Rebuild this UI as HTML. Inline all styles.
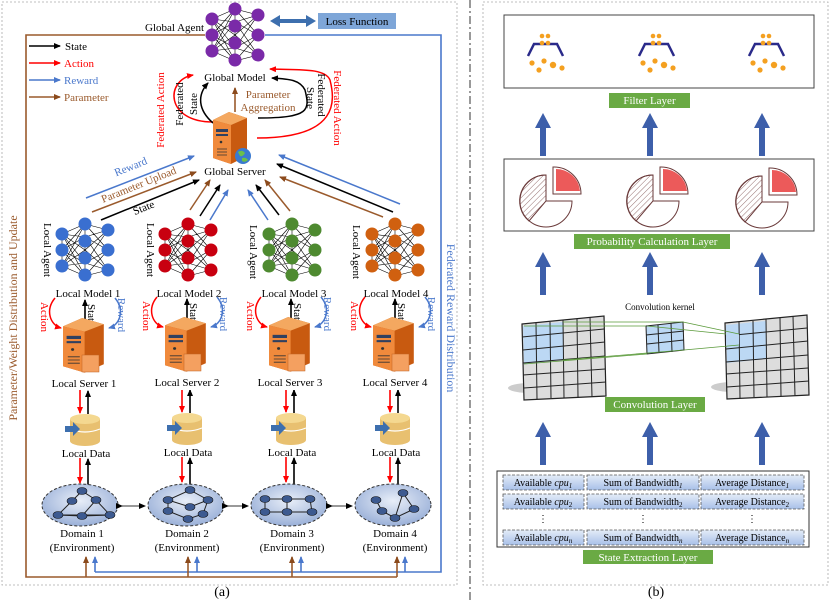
<!DOCTYPE html>
<html><head><meta charset="utf-8"><style>
body{margin:0;background:#fff;}
svg{display:block;font-family:"Liberation Serif",serif;}
</style></head><body>
<svg width="831" height="600" viewBox="0 0 831 600" xmlns="http://www.w3.org/2000/svg">
<defs>
<marker id="ak" markerWidth="8" markerHeight="8" refX="6" refY="3" orient="auto" markerUnits="userSpaceOnUse"><path d="M0,0 L7,3 L0,6z" fill="#000"/></marker>
<marker id="ar" markerWidth="8" markerHeight="8" refX="6" refY="3" orient="auto" markerUnits="userSpaceOnUse"><path d="M0,0 L7,3 L0,6z" fill="#f00"/></marker>
<marker id="ab" markerWidth="8" markerHeight="8" refX="6" refY="3" orient="auto" markerUnits="userSpaceOnUse"><path d="M0,0 L7,3 L0,6z" fill="#4a78cc"/></marker>
<marker id="an" markerWidth="8" markerHeight="8" refX="6" refY="3" orient="auto" markerUnits="userSpaceOnUse"><path d="M0,0 L7,3 L0,6z" fill="#8b4a1c"/></marker>
<g id="netl" stroke="#000" stroke-width="0.6">
<path d="M-23,-16L0,-26M-23,-16L0,-13M-23,-16L0,0M-23,-16L0,13M-23,-16L0,26M-23,0L0,-26M-23,0L0,-13M-23,0L0,13M-23,0L0,26M-23,16L0,-26M-23,16L0,-13M-23,16L0,0M-23,16L0,13M-23,16L0,26M0,-26L23,-20M0,-26L23,0M0,-13L23,-20M0,-13L23,0M0,-13L23,20M0,0L23,-20M0,0L23,20M0,13L23,-20M0,13L23,0M0,13L23,20M0,26L23,0M0,26L23,20M-23,-16L-23,16M0,-26L0,26" fill="none"/>
</g>
<g id="srv">
<path d="M0,8 L16,0 L34,6 L34,44 L18,52 L0,46z" fill="#c85a10"/>
<path d="M0,8 L16,0 L34,6 L18,13z" fill="#f4a860"/>
<path d="M0,8 L18,13 L18,52 L0,46z" fill="#f08a3c"/>
<rect x="3" y="17" width="12" height="3" fill="#304060"/>
<rect x="3" y="22" width="12" height="2" fill="#304060"/>
<circle cx="8" cy="30" r="1.3" fill="#333"/>
<path d="M4,37h10M4,40h10M4,43h10" stroke="#333" stroke-width="0.8"/>
</g>
<g id="db">
<rect x="0" y="4" width="30" height="22" fill="#e8c070"/>
<ellipse cx="15" cy="26" rx="15" ry="5" fill="#e8c070"/>
<ellipse cx="15" cy="4" rx="15" ry="5" fill="#f4d890"/>
<path d="M0,14 Q15,20 30,14" stroke="#fff" fill="none" stroke-width="1.2"/>
<path d="M-5,11h8v-4l7,7-7,7v-4h-8z" fill="#3d6fae"/>
</g>
</defs>

<rect x="2" y="2" width="455" height="583" fill="none" stroke="#aaa" stroke-dasharray="2,2" stroke-width="0.8"/>
<line x1="470" y1="0" x2="470" y2="600" stroke="#333" stroke-dasharray="8,3,2,3" stroke-width="1"/>
<rect x="483" y="2" width="345" height="583" fill="none" stroke="#aaa" stroke-dasharray="2,2" stroke-width="0.8"/>
<text x="222" y="596" font-size="14" text-anchor="middle">(a)</text>
<text x="656" y="596" font-size="14" text-anchor="middle">(b)</text>

<path d="M205,35 H26 V577 H397" stroke="#9a5a2c" stroke-width="1.6" fill="none"/>
<path d="M265,35 H441 V572 H95" stroke="#4a78cc" stroke-width="1.6" fill="none"/>
<g stroke="#9a5a2c" stroke-width="1.6" marker-end="url(#an)"><line x1="86" y1="577" x2="86" y2="557"/><line x1="188" y1="577" x2="188" y2="557"/><line x1="292" y1="577" x2="292" y2="557"/><line x1="397" y1="577" x2="397" y2="557"/></g>
<g stroke="#4a78cc" stroke-width="1.6" marker-end="url(#ab)"><line x1="95" y1="572" x2="95" y2="557"/><line x1="197" y1="572" x2="197" y2="557"/><line x1="301" y1="572" x2="301" y2="557"/><line x1="405" y1="572" x2="405" y2="557"/></g>
<text transform="translate(17,318) rotate(-90)" font-size="12" fill="#9a5a2c" text-anchor="middle">Parameter/Weight Distribution and Update</text>
<text transform="translate(447,318) rotate(90)" font-size="12" fill="#4a78cc" text-anchor="middle">Federated Reward Distribution</text>

<g transform="translate(235,35)"><use href="#netl"/>
<g fill="#7a2aa8"><circle cx="-23" cy="-16" r="6.5"/><circle cx="-23" cy="0" r="6.5"/><circle cx="-23" cy="16" r="6.5"/><circle cx="0" cy="-26" r="6.5"/><circle cx="0" cy="-9" r="6.5"/><circle cx="0" cy="8" r="6.5"/><circle cx="0" cy="25" r="6.5"/><circle cx="23" cy="-20" r="6.5"/><circle cx="23" cy="0" r="6.5"/><circle cx="23" cy="20" r="6.5"/></g></g>
<text x="204" y="31" font-size="11" text-anchor="end">Global Agent</text>
<path d="M270,21 l10,-6 v4 h26 v-4 l10,6 -10,6 v-4 h-26 v4z" fill="#3d6fae"/>
<rect x="318" y="13" width="78" height="16" fill="#7ea6d8"/>
<text x="357" y="25" font-size="11" text-anchor="middle">Loss Function</text>

<g stroke-width="1.5"><line x1="29" y1="46" x2="60" y2="46" stroke="#000" marker-end="url(#ak)"/><line x1="29" y1="63" x2="60" y2="63" stroke="#f00" marker-end="url(#ar)"/><line x1="29" y1="80" x2="60" y2="80" stroke="#4a78cc" marker-end="url(#ab)"/><line x1="29" y1="97" x2="60" y2="97" stroke="#9a5a2c" marker-end="url(#an)"/></g>
<g font-size="11"><text x="65" y="50">State</text><text x="64" y="67" fill="#f00">Action</text><text x="64" y="84" fill="#4a78cc">Reward</text><text x="64" y="101" fill="#9a5a2c">Parameter</text></g>

<text x="235" y="81" font-size="11" text-anchor="middle">Global Model</text>
<path d="M213,122 C165,122 165,80 193,75" stroke="#f00" stroke-width="1.5" fill="none" marker-end="url(#ar)"/>
<path d="M257,138 C340,138 335,100 330,80 C325,68 300,70 270,69" stroke="#f00" stroke-width="1.5" fill="none" marker-end="url(#ar)"/>
<path d="M213,123 C198,110 197,95 208,83" stroke="#000" stroke-width="1.5" fill="none" marker-end="url(#ak)"/>
<path d="M258,118 C310,118 310,110 305,90 C300,80 290,79 272,78" stroke="#000" stroke-width="1.5" fill="none" marker-end="url(#ak)"/>
<line x1="235" y1="112" x2="235" y2="88" stroke="#9a5a2c" stroke-width="1.6" marker-end="url(#an)"/>
<text x="268" y="98" font-size="11" fill="#9a5a2c" text-anchor="middle">Parameter</text>
<text x="268" y="111" font-size="11" fill="#9a5a2c" text-anchor="middle">Aggregation</text>
<text transform="translate(164,110) rotate(-90)" font-size="11" fill="#f00" text-anchor="middle">Federated Action</text>
<text transform="translate(183,104) rotate(-90)" font-size="11" text-anchor="middle">Federated</text>
<text transform="translate(197,104) rotate(-90)" font-size="11" text-anchor="middle">State</text>
<text transform="translate(307,98) rotate(90)" font-size="11" text-anchor="middle">State</text>
<text transform="translate(318,95) rotate(90)" font-size="11" text-anchor="middle">Federated</text>
<text transform="translate(334,108) rotate(90)" font-size="11" fill="#f00" text-anchor="middle">Federated Action</text>
<use href="#srv" transform="translate(213,112)"/>
<circle cx="243" cy="156" r="8" fill="#3a7ad0"/><path d="M238,152 q4,-3 7,1 q-2,4 -5,3z M242,158 q4,-1 6,2 q-3,3 -6,1z" fill="#6ac04a"/>
<text x="235" y="175" font-size="11" text-anchor="middle">Global Server</text>

<g stroke-width="1.5">
<line x1="86" y1="198" x2="194" y2="156" stroke="#4a78cc" marker-end="url(#ab)"/>
<line x1="92" y1="212" x2="196" y2="172" stroke="#9a5a2c" marker-end="url(#an)"/>
<line x1="101" y1="220" x2="199" y2="180" stroke="#000" marker-end="url(#ak)"/>
<line x1="190" y1="210" x2="210" y2="180" stroke="#9a5a2c" marker-end="url(#an)"/>
<line x1="200" y1="216" x2="220" y2="185" stroke="#000" marker-end="url(#ak)"/>
<line x1="210" y1="220" x2="228" y2="190" stroke="#4a78cc" marker-end="url(#ab)"/>
<line x1="268" y1="220" x2="248" y2="190" stroke="#4a78cc" marker-end="url(#ab)"/>
<line x1="279" y1="215" x2="256" y2="185" stroke="#000" marker-end="url(#ak)"/>
<line x1="290" y1="211" x2="265" y2="180" stroke="#9a5a2c" marker-end="url(#an)"/>
<line x1="383" y1="217" x2="280" y2="177" stroke="#9a5a2c" marker-end="url(#an)"/>
<line x1="393" y1="212" x2="277" y2="164" stroke="#000" marker-end="url(#ak)"/>
<line x1="400" y1="204" x2="279" y2="155" stroke="#4a78cc" marker-end="url(#ab)"/>
</g>
<text transform="translate(132,170) rotate(-22)" font-size="11" fill="#4a78cc" text-anchor="middle">Reward</text>
<text transform="translate(140,188) rotate(-22)" font-size="11" fill="#9a5a2c" text-anchor="middle">Parameter Upload</text>
<text transform="translate(145,211) rotate(-22)" font-size="11" text-anchor="middle">State</text>

<g font-size="11">
<g transform="translate(85,250)"><use href="#netl"/><g fill="#3a6fd0"><circle cx="-23" cy="-16" r="6.5"/><circle cx="-23" cy="0" r="6.5"/><circle cx="-23" cy="16" r="6.5"/><circle cx="0" cy="-26" r="6.5"/><circle cx="0" cy="-9" r="6.5"/><circle cx="0" cy="8" r="6.5"/><circle cx="0" cy="25" r="6.5"/><circle cx="23" cy="-20" r="6.5"/><circle cx="23" cy="0" r="6.5"/><circle cx="23" cy="20" r="6.5"/></g></g>
<g transform="translate(188,250)"><use href="#netl"/><g fill="#c80010"><circle cx="-23" cy="-16" r="6.5"/><circle cx="-23" cy="0" r="6.5"/><circle cx="-23" cy="16" r="6.5"/><circle cx="0" cy="-26" r="6.5"/><circle cx="0" cy="-9" r="6.5"/><circle cx="0" cy="8" r="6.5"/><circle cx="0" cy="25" r="6.5"/><circle cx="23" cy="-20" r="6.5"/><circle cx="23" cy="0" r="6.5"/><circle cx="23" cy="20" r="6.5"/></g></g>
<g transform="translate(292,250)"><use href="#netl"/><g fill="#4e8a30"><circle cx="-23" cy="-16" r="6.5"/><circle cx="-23" cy="0" r="6.5"/><circle cx="-23" cy="16" r="6.5"/><circle cx="0" cy="-26" r="6.5"/><circle cx="0" cy="-9" r="6.5"/><circle cx="0" cy="8" r="6.5"/><circle cx="0" cy="25" r="6.5"/><circle cx="23" cy="-20" r="6.5"/><circle cx="23" cy="0" r="6.5"/><circle cx="23" cy="20" r="6.5"/></g></g>
<g transform="translate(395,250)"><use href="#netl"/><g fill="#d06010"><circle cx="-23" cy="-16" r="6.5"/><circle cx="-23" cy="0" r="6.5"/><circle cx="-23" cy="16" r="6.5"/><circle cx="0" cy="-26" r="6.5"/><circle cx="0" cy="-9" r="6.5"/><circle cx="0" cy="8" r="6.5"/><circle cx="0" cy="25" r="6.5"/><circle cx="23" cy="-20" r="6.5"/><circle cx="23" cy="0" r="6.5"/><circle cx="23" cy="20" r="6.5"/></g></g>
<text transform="translate(44,250) rotate(90)" text-anchor="middle">Local Agent</text>
<text transform="translate(147,250) rotate(90)" text-anchor="middle">Local Agent</text>
<text transform="translate(250,252) rotate(90)" text-anchor="middle">Local Agent</text>
<text transform="translate(353,252) rotate(90)" text-anchor="middle">Local Agent</text>
<text x="88" y="297" text-anchor="middle">Local Model 1</text>
<text x="189" y="297" text-anchor="middle">Local Model 2</text>
<text x="294" y="297" text-anchor="middle">Local Model 3</text>
<text x="396" y="297" text-anchor="middle">Local Model 4</text>
</g>

<g id="c" font-size="11">
<path d="M55,298 C45,310 50,325 61,328" stroke="#f00" stroke-width="1.5" fill="none" marker-end="url(#ar)"/>
<path d="M115,298 C125,310 120,325 109,328" stroke="#4a78cc" stroke-width="1.5" fill="none" marker-end="url(#ab)"/>
<line x1="85" y1="322" x2="85" y2="300" stroke="#000" stroke-width="1.6" marker-end="url(#ak)"/>
<text transform="translate(41,317) rotate(90)" fill="#f00" text-anchor="middle">Action</text>
<text transform="translate(88,315) rotate(90)" text-anchor="middle">State</text>
<text transform="translate(118,315) rotate(90)" fill="#4a78cc" text-anchor="middle">Reward</text>
<use href="#srv" transform="translate(63,318) scale(1.2,1.05)"/>
<rect x="82" y="355" width="17" height="17" fill="#f4a060" stroke="#c06020" stroke-width="0.5"/>
<text x="84" y="387" text-anchor="middle">Local Server 1</text>
<line x1="80" y1="390" x2="80" y2="413" stroke="#f00" stroke-width="1.6" marker-end="url(#ar)"/>
<line x1="88" y1="414" x2="88" y2="391" stroke="#000" stroke-width="1.6" marker-end="url(#ak)"/>
<use href="#db" transform="translate(70,415)"/>
<text x="86" y="457" text-anchor="middle">Local Data</text>
<line x1="80" y1="458" x2="80" y2="483" stroke="#f00" stroke-width="1.6" marker-end="url(#ar)"/>
<line x1="88" y1="485" x2="88" y2="459" stroke="#000" stroke-width="1.6" marker-end="url(#ak)"/>
</g>
<use href="#c" transform="translate(102,-1)"/>
<use href="#c" transform="translate(206,-1)"/>
<use href="#c" transform="translate(310,-1)"/>
<rect x="150" y="376" width="80" height="14" fill="#fff"/><text x="187" y="386" font-size="11" text-anchor="middle">Local Server 2</text>
<rect x="252" y="376" width="80" height="14" fill="#fff"/><text x="290" y="386" font-size="11" text-anchor="middle">Local Server 3</text>
<rect x="356" y="376" width="80" height="14" fill="#fff"/><text x="395" y="386" font-size="11" text-anchor="middle">Local Server 4</text>

<defs><radialGradient id="dg" cx="0.5" cy="0.4" r="0.6"><stop offset="0" stop-color="#e8eef8"/><stop offset="1" stop-color="#9ab0d8"/></radialGradient></defs>
<g stroke="#333" stroke-dasharray="3,2" fill="url(#dg)">
<ellipse cx="80" cy="505" rx="38" ry="21"/><ellipse cx="186" cy="505" rx="38" ry="21"/><ellipse cx="289" cy="505" rx="38" ry="21"/><ellipse cx="393" cy="505" rx="38" ry="21"/>
</g>
<g stroke="#333" stroke-width="1" marker-start="url(#ak)" marker-end="url(#ak)">
<line x1="122" y1="506" x2="145" y2="506"/><line x1="228" y1="506" x2="248" y2="506"/><line x1="332" y1="506" x2="352" y2="506"/></g>
<g stroke="#222" stroke-width="1" fill="none">
<path d="M58,515 L72,501 L82,491 L96,500 L110,515 L82,516z M58,515 H110 M82,516 L96,500"/>
<path d="M168,500 L190,490 L208,500 L203,514 L188,519 L168,511z M168,500 L190,507 L208,500"/>
<path d="M265,499 H310 L312,512 H265z M287,499 V512"/>
<path d="M376,500 L382,511 L395,518 L414,509 L403,493 L395,518"/>
</g>
<g fill="#3d5a90" stroke="#111" stroke-width="0.6">
<ellipse cx="58" cy="515" rx="5" ry="3.5"/><ellipse cx="72" cy="501" rx="5" ry="3.5"/><ellipse cx="82" cy="491" rx="5" ry="3.5"/><ellipse cx="96" cy="500" rx="5" ry="3.5"/><ellipse cx="110" cy="515" rx="5" ry="3.5"/><ellipse cx="82" cy="516" rx="5" ry="3.5"/>
<ellipse cx="168" cy="500" rx="5" ry="3.5"/><ellipse cx="190" cy="490" rx="5" ry="3.5"/><ellipse cx="208" cy="500" rx="5" ry="3.5"/><ellipse cx="203" cy="514" rx="5" ry="3.5"/><ellipse cx="188" cy="519" rx="5" ry="3.5"/><ellipse cx="168" cy="511" rx="5" ry="3.5"/><ellipse cx="190" cy="507" rx="5" ry="3.5"/>
<ellipse cx="265" cy="499" rx="5" ry="3.5"/><ellipse cx="287" cy="499" rx="5" ry="3.5"/><ellipse cx="310" cy="499" rx="5" ry="3.5"/><ellipse cx="265" cy="512" rx="5" ry="3.5"/><ellipse cx="287" cy="512" rx="5" ry="3.5"/><ellipse cx="312" cy="512" rx="5" ry="3.5"/>
<ellipse cx="376" cy="500" rx="5" ry="3.5"/><ellipse cx="382" cy="511" rx="5" ry="3.5"/><ellipse cx="395" cy="518" rx="5" ry="3.5"/><ellipse cx="414" cy="509" rx="5" ry="3.5"/><ellipse cx="403" cy="493" rx="5" ry="3.5"/>
</g>
<g font-size="11" text-anchor="middle">
<text x="82" y="537">Domain 1</text><text x="82" y="551">(Environment)</text>
<text x="187" y="537">Domain 2</text><text x="187" y="551">(Environment)</text>
<text x="292" y="537">Domain 3</text><text x="292" y="551">(Environment)</text>
<text x="395" y="537">Domain 4</text><text x="395" y="551">(Environment)</text>
</g>

<rect x="504" y="15" width="310" height="73" fill="#fff" stroke="#444" stroke-width="1"/>
<g id="flt">
<path d="M528,56 L534,44 H557 L563,56" stroke="#2a2a8a" stroke-width="2.5" fill="none"/>
<g fill="#f4a020"><circle cx="542" cy="36" r="2.3"/><circle cx="548" cy="36" r="2.3"/><circle cx="542" cy="43" r="2.3"/><circle cx="548" cy="43" r="2.3"/><circle cx="532" cy="63" r="2.6"/><circle cx="544" cy="61" r="2.6"/><circle cx="553" cy="65" r="3.2"/><circle cx="562" cy="68" r="2.6"/><circle cx="539" cy="70" r="2.6"/></g>
</g>
<use href="#flt" transform="translate(111,0)"/>
<use href="#flt" transform="translate(221,0)"/>
<rect x="609" y="93" width="81" height="15" fill="#6aaa44"/>
<text x="649.5" y="104" font-size="11" fill="#fff" text-anchor="middle">Filter Layer</text>

<g id="arr" fill="#3d5faa"><rect x="540" y="127" width="6" height="29"/><path d="M535,128 L543,113 L551,128z"/></g>
<use href="#arr" transform="translate(107,0)"/><use href="#arr" transform="translate(219,0)"/>
<use href="#arr" transform="translate(0,139)"/><use href="#arr" transform="translate(107,139)"/><use href="#arr" transform="translate(219,139)"/>
<use href="#arr" transform="translate(0,309)"/><use href="#arr" transform="translate(107,309)"/><use href="#arr" transform="translate(219,309)"/>

<rect x="504" y="159" width="310" height="72" fill="#fff" stroke="#444" stroke-width="1"/>
<defs><pattern id="hat" width="4" height="4" patternUnits="userSpaceOnUse" patternTransform="rotate(45)"><line x1="0" y1="0" x2="0" y2="4" stroke="#7a4a4a" stroke-width="0.8"/></pattern></defs>
<g id="pie">
<circle cx="546" cy="201" r="26" fill="#fff" stroke="#6a3a3a" stroke-width="1"/>
<rect x="546.5" y="172" width="30" height="28.5" fill="#fff"/>
<path d="M546,201 H572 M546,201 V175" stroke="#6a3a3a" stroke-width="1"/>
<path d="M546,201 L546,175 A26,26 0 0,0 529,221 Z" fill="url(#hat)" stroke="#6a3a3a" stroke-width="1"/>
<path d="M553,167 V194 H581 A27,27 0 0,0 553,167z" fill="#fff" stroke="#6a3a3a" stroke-width="1"/>
<path d="M556,169 V191 H580 A24,24 0 0,0 556,169z" fill="#ec5a5a"/>
</g>
<use href="#pie" transform="translate(107,0)"/><use href="#pie" transform="translate(216,1)"/>
<rect x="574" y="234" width="156" height="15" fill="#6aaa44"/>
<text x="652" y="245" font-size="11" fill="#fff" text-anchor="middle">Probability Calculation Layer</text>

<text x="660" y="310" font-size="9" text-anchor="middle">Convolution kernel</text>
<g id="grid">
<ellipse cx="530" cy="388" rx="22" ry="5" fill="#999" opacity="0.5"/>
<path d="M522,324 L604,316 L606,396 L524,400z" fill="#ddd" stroke="#222" stroke-width="1.2"/>
<path d="M523,326 L563,322 L563,360 L524,364z" fill="#bcd8f4"/>
<g stroke="#222" stroke-width="1"><path d="M536,323 L537,399 M550,322 L551,398 M563,320 L564,398 M577,319 L578,397 M590,317 L592,397"/><path d="M522,337 L604,329 M523,350 L605,342 M523,363 L605,356 M523,375 L605,369 M524,388 L606,382"/></g>
</g>
<use href="#grid" transform="translate(203,-1)"/>
<rect x="726" y="334" width="13" height="12" fill="#bcd8f4"/>
<path d="M646,326 L683,322 L684,350 L647,354z" fill="#bcd8f4" stroke="#222"/>
<path d="M658,325 L659,353 M671,323 L672,352 M646,335 L684,331 M647,344 L684,340" stroke="#222"/>
<g stroke="#5a9a3a" stroke-width="0.8" fill="none"><path d="M524,326 L646,326 M563,322 L683,322 M524,364 L647,354 M563,360 L684,350 M683,322 L739,334 M684,350 L739,345 M647,326 L726,334"/></g>
<rect x="605" y="397" width="100" height="15" fill="#6aaa44"/>
<text x="655" y="408" font-size="11" fill="#fff" text-anchor="middle">Convolution Layer</text>

<rect x="497" y="471" width="312" height="76" fill="#fff" stroke="#333" stroke-width="1"/>
<defs><linearGradient id="cg" x1="0" y1="0" x2="0" y2="1"><stop offset="0" stop-color="#e4ecf8"/><stop offset="1" stop-color="#a8c0e8"/></linearGradient></defs>
<g fill="url(#cg)" stroke="#555" stroke-dasharray="3,1.5" stroke-width="0.8">
<rect x="503" y="475" width="81" height="15"/><rect x="587" y="475" width="112" height="15"/><rect x="701" y="475" width="103" height="15"/>
<rect x="503" y="494" width="81" height="15"/><rect x="587" y="494" width="112" height="15"/><rect x="701" y="494" width="103" height="15"/>
<rect x="503" y="530" width="81" height="15"/><rect x="587" y="530" width="112" height="15"/><rect x="701" y="530" width="103" height="15"/>
</g>
<g font-size="10" text-anchor="middle">
<text x="543" y="486">Available <tspan font-style="italic">cpu</tspan><tspan font-size="7" dy="2" font-style="italic">1</tspan></text>
<text x="643" y="486">Sum of  Bandwidth<tspan font-size="7" dy="2" font-style="italic">1</tspan></text>
<text x="752" y="486">Average Distance<tspan font-size="7" dy="2" font-style="italic">1</tspan></text>
<text x="543" y="505">Available <tspan font-style="italic">cpu</tspan><tspan font-size="7" dy="2">2</tspan></text>
<text x="643" y="505">Sum of  Bandwidth<tspan font-size="7" dy="2">2</tspan></text>
<text x="752" y="505">Average Distance<tspan font-size="7" dy="2">2</tspan></text>
<text x="543" y="522">⋮</text><text x="643" y="522">⋮</text><text x="752" y="522">⋮</text>
<text x="543" y="541">Available <tspan font-style="italic">cpu</tspan><tspan font-size="7" dy="2" font-style="italic">n</tspan></text>
<text x="643" y="541">Sum of  Bandwidth<tspan font-size="7" dy="2" font-style="italic">n</tspan></text>
<text x="752" y="541">Average Distance<tspan font-size="7" dy="2" font-style="italic">n</tspan></text>
</g>
<rect x="583" y="550" width="130" height="14" fill="#6aaa44"/>
<text x="648" y="561" font-size="11" fill="#fff" text-anchor="middle">State Extraction Layer</text>
</svg>
</body></html>
